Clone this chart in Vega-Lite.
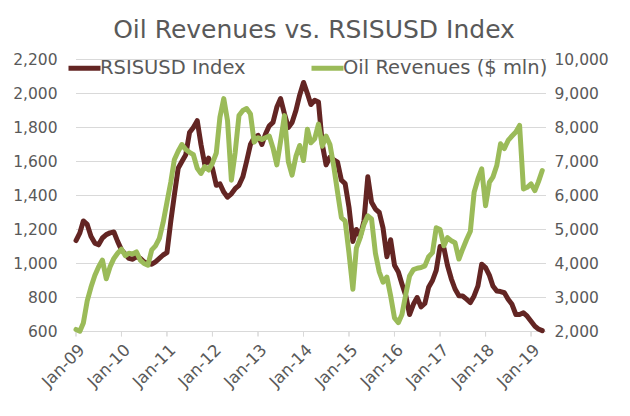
{
  "$schema": "https://vega.github.io/schema/vega-lite/v6.json",
  "width": 470,
  "height": 272,
  "autosize": {"type": "none"},
  "padding": {"left": 76, "top": 59.5, "right": 84, "bottom": 84.5},
  "background": "#ffffff",
  "title": {
    "text": "Oil Revenues vs. RSISUSD Index",
    "font": "DejaVu Sans",
    "fontSize": 25,
    "fontWeight": "normal",
    "color": "#595959",
    "anchor": "middle",
    "dx": 3,
    "dy": -3
  },
  "config": {
    "view": {"stroke": null},
    "axis": {
      "labelFont": "DejaVu Sans",
      "labelFontSize": 15.5,
      "labelColor": "#595959",
      "title": null
    },
    "legend": {
      "orient": "none",
      "legendX": -10,
      "legendY": -10,
      "direction": "horizontal",
      "symbolType": "stroke",
      "symbolSize": 1024,
      "symbolStrokeWidth": 5,
      "labelFont": "DejaVu Sans",
      "labelFontSize": 19.5,
      "labelColor": "#595959",
      "labelOffset": -3,
      "labelLimit": 400,
      "columnPadding": 55,
      "padding": 0,
      "title": null
    }
  },
  "datasets": {
    "grid": [
      {"d": "2009-01-01", "g": 600}, {"d": "2019-05-01", "g": 600},
      {"d": "2009-01-01", "g": 800}, {"d": "2019-05-01", "g": 800},
      {"d": "2009-01-01", "g": 1000}, {"d": "2019-05-01", "g": 1000},
      {"d": "2009-01-01", "g": 1200}, {"d": "2019-05-01", "g": 1200},
      {"d": "2009-01-01", "g": 1400}, {"d": "2019-05-01", "g": 1400},
      {"d": "2009-01-01", "g": 1600}, {"d": "2019-05-01", "g": 1600},
      {"d": "2009-01-01", "g": 1800}, {"d": "2019-05-01", "g": 1800},
      {"d": "2009-01-01", "g": 2000}, {"d": "2019-05-01", "g": 2000},
      {"d": "2009-01-01", "g": 2200}, {"d": "2019-05-01", "g": 2200}
    ],
    "ticks": [
      {"d": "2009-01-01"}, {"d": "2010-01-01"}, {"d": "2011-01-01"}, {"d": "2012-01-01"},
      {"d": "2013-01-01"}, {"d": "2014-01-01"}, {"d": "2015-01-01"}, {"d": "2016-01-01"},
      {"d": "2017-01-01"}, {"d": "2018-01-01"}, {"d": "2019-01-01"}
    ],
    "series": [
      {"date": "2009-01-01", "rsis": 1135, "oil": 2060},
      {"date": "2009-02-01", "rsis": 1180, "oil": 2010},
      {"date": "2009-03-01", "rsis": 1250, "oil": 2250},
      {"date": "2009-04-01", "rsis": 1230, "oil": 2900},
      {"date": "2009-05-01", "rsis": 1160, "oil": 3300},
      {"date": "2009-06-01", "rsis": 1120, "oil": 3650},
      {"date": "2009-07-01", "rsis": 1110, "oil": 3900},
      {"date": "2009-08-01", "rsis": 1150, "oil": 4100},
      {"date": "2009-09-01", "rsis": 1170, "oil": 3550},
      {"date": "2009-10-01", "rsis": 1180, "oil": 3900},
      {"date": "2009-11-01", "rsis": 1185, "oil": 4150},
      {"date": "2009-12-01", "rsis": 1130, "oil": 4300},
      {"date": "2010-01-01", "rsis": 1080, "oil": 4420},
      {"date": "2010-02-01", "rsis": 1055, "oil": 4230},
      {"date": "2010-03-01", "rsis": 1030, "oil": 4300},
      {"date": "2010-04-01", "rsis": 1025, "oil": 4280},
      {"date": "2010-05-01", "rsis": 1040, "oil": 4340},
      {"date": "2010-06-01", "rsis": 1030, "oil": 4100},
      {"date": "2010-07-01", "rsis": 1010, "oil": 4000},
      {"date": "2010-08-01", "rsis": 1000, "oil": 3950},
      {"date": "2010-09-01", "rsis": 996, "oil": 4400},
      {"date": "2010-10-01", "rsis": 1010, "oil": 4520},
      {"date": "2010-11-01", "rsis": 1030, "oil": 4740},
      {"date": "2010-12-01", "rsis": 1050, "oil": 5200},
      {"date": "2011-01-01", "rsis": 1064, "oil": 5800},
      {"date": "2011-02-01", "rsis": 1250, "oil": 6400},
      {"date": "2011-03-01", "rsis": 1400, "oil": 7050},
      {"date": "2011-04-01", "rsis": 1560, "oil": 7300},
      {"date": "2011-05-01", "rsis": 1600, "oil": 7500},
      {"date": "2011-06-01", "rsis": 1640, "oil": 7350},
      {"date": "2011-07-01", "rsis": 1770, "oil": 7270},
      {"date": "2011-08-01", "rsis": 1800, "oil": 7200},
      {"date": "2011-09-01", "rsis": 1840, "oil": 6800},
      {"date": "2011-10-01", "rsis": 1700, "oil": 6650},
      {"date": "2011-11-01", "rsis": 1580, "oil": 6850},
      {"date": "2011-12-01", "rsis": 1620, "oil": 6750},
      {"date": "2012-01-01", "rsis": 1560, "oil": 6950},
      {"date": "2012-02-01", "rsis": 1460, "oil": 7250},
      {"date": "2012-03-01", "rsis": 1468, "oil": 8300},
      {"date": "2012-04-01", "rsis": 1420, "oil": 8850},
      {"date": "2012-05-01", "rsis": 1390, "oil": 8200},
      {"date": "2012-06-01", "rsis": 1410, "oil": 6450},
      {"date": "2012-07-01", "rsis": 1440, "oil": 7250},
      {"date": "2012-08-01", "rsis": 1460, "oil": 8350},
      {"date": "2012-09-01", "rsis": 1510, "oil": 8500},
      {"date": "2012-10-01", "rsis": 1600, "oil": 8556},
      {"date": "2012-11-01", "rsis": 1700, "oil": 8400},
      {"date": "2012-12-01", "rsis": 1740, "oil": 7570},
      {"date": "2013-01-01", "rsis": 1754, "oil": 7700},
      {"date": "2013-02-01", "rsis": 1700, "oil": 7650},
      {"date": "2013-03-01", "rsis": 1760, "oil": 7700},
      {"date": "2013-04-01", "rsis": 1810, "oil": 7750},
      {"date": "2013-05-01", "rsis": 1830, "oil": 7400},
      {"date": "2013-06-01", "rsis": 1920, "oil": 6900},
      {"date": "2013-07-01", "rsis": 1970, "oil": 7600},
      {"date": "2013-08-01", "rsis": 1880, "oil": 8350},
      {"date": "2013-09-01", "rsis": 1800, "oil": 7000},
      {"date": "2013-10-01", "rsis": 1830, "oil": 6600},
      {"date": "2013-11-01", "rsis": 1900, "oil": 7150},
      {"date": "2013-12-01", "rsis": 1990, "oil": 7472},
      {"date": "2014-01-01", "rsis": 2065, "oil": 7029},
      {"date": "2014-02-01", "rsis": 2000, "oil": 7950},
      {"date": "2014-03-01", "rsis": 1935, "oil": 7550},
      {"date": "2014-04-01", "rsis": 1960, "oil": 7670},
      {"date": "2014-05-01", "rsis": 1950, "oil": 8100},
      {"date": "2014-06-01", "rsis": 1700, "oil": 7450},
      {"date": "2014-07-01", "rsis": 1580, "oil": 7750},
      {"date": "2014-08-01", "rsis": 1625, "oil": 7500},
      {"date": "2014-09-01", "rsis": 1610, "oil": 6850},
      {"date": "2014-10-01", "rsis": 1596, "oil": 6100},
      {"date": "2014-11-01", "rsis": 1490, "oil": 5350},
      {"date": "2014-12-01", "rsis": 1470, "oil": 5250},
      {"date": "2015-01-01", "rsis": 1330, "oil": 4300},
      {"date": "2015-02-01", "rsis": 1130, "oil": 3240},
      {"date": "2015-03-01", "rsis": 1200, "oil": 4450},
      {"date": "2015-04-01", "rsis": 1160, "oil": 4760},
      {"date": "2015-05-01", "rsis": 1250, "oil": 5150},
      {"date": "2015-06-01", "rsis": 1510, "oil": 5400},
      {"date": "2015-07-01", "rsis": 1360, "oil": 5310},
      {"date": "2015-08-01", "rsis": 1320, "oil": 4300},
      {"date": "2015-09-01", "rsis": 1300, "oil": 3750},
      {"date": "2015-10-01", "rsis": 1210, "oil": 3450},
      {"date": "2015-11-01", "rsis": 1040, "oil": 3600},
      {"date": "2015-12-01", "rsis": 1140, "oil": 3050},
      {"date": "2016-01-01", "rsis": 990, "oil": 2400},
      {"date": "2016-02-01", "rsis": 950, "oil": 2260},
      {"date": "2016-03-01", "rsis": 880, "oil": 2500},
      {"date": "2016-04-01", "rsis": 810, "oil": 3100},
      {"date": "2016-05-01", "rsis": 700, "oil": 3630},
      {"date": "2016-06-01", "rsis": 760, "oil": 3820},
      {"date": "2016-07-01", "rsis": 800, "oil": 3860},
      {"date": "2016-08-01", "rsis": 745, "oil": 3880},
      {"date": "2016-09-01", "rsis": 765, "oil": 3930},
      {"date": "2016-10-01", "rsis": 860, "oil": 4200},
      {"date": "2016-11-01", "rsis": 900, "oil": 4320},
      {"date": "2016-12-01", "rsis": 960, "oil": 5050},
      {"date": "2017-01-01", "rsis": 1100, "oil": 5000},
      {"date": "2017-02-01", "rsis": 1090, "oil": 4520},
      {"date": "2017-03-01", "rsis": 990, "oil": 4760},
      {"date": "2017-04-01", "rsis": 910, "oil": 4670},
      {"date": "2017-05-01", "rsis": 850, "oil": 4610},
      {"date": "2017-06-01", "rsis": 810, "oil": 4130},
      {"date": "2017-07-01", "rsis": 809, "oil": 4420},
      {"date": "2017-08-01", "rsis": 790, "oil": 4700},
      {"date": "2017-09-01", "rsis": 770, "oil": 4950},
      {"date": "2017-10-01", "rsis": 809, "oil": 6090},
      {"date": "2017-11-01", "rsis": 868, "oil": 6490},
      {"date": "2017-12-01", "rsis": 996, "oil": 6783},
      {"date": "2018-01-01", "rsis": 976, "oil": 5700},
      {"date": "2018-02-01", "rsis": 930, "oil": 6390},
      {"date": "2018-03-01", "rsis": 868, "oil": 6540},
      {"date": "2018-04-01", "rsis": 838, "oil": 6880},
      {"date": "2018-05-01", "rsis": 835, "oil": 7520},
      {"date": "2018-06-01", "rsis": 828, "oil": 7380},
      {"date": "2018-07-01", "rsis": 790, "oil": 7620},
      {"date": "2018-08-01", "rsis": 760, "oil": 7750},
      {"date": "2018-09-01", "rsis": 700, "oil": 7870},
      {"date": "2018-10-01", "rsis": 700, "oil": 8062},
      {"date": "2018-11-01", "rsis": 710, "oil": 6193},
      {"date": "2018-12-01", "rsis": 690, "oil": 6241},
      {"date": "2019-01-01", "rsis": 660, "oil": 6340},
      {"date": "2019-02-01", "rsis": 631, "oil": 6143},
      {"date": "2019-03-01", "rsis": 615, "oil": 6400},
      {"date": "2019-04-01", "rsis": 605, "oil": 6734}
    ]
  },
  "layer": [
    {
      "data": {"name": "grid"},
      "mark": {"type": "line", "color": "#D9D9D9", "strokeWidth": 1},
      "encoding": {
        "x": {"field": "d", "type": "temporal",
              "scale": {"type": "utc", "domain": ["2009-01-01", "2019-05-01"], "nice": false},
              "axis": {"format": "%b-%y", "tickCount": {"interval": "year", "step": 1}, "labelAngle": -45, "labelOverlap": false, "labelBound": false, "labelFlush": false, "labelFontSize": 16.5, "grid": false, "domain": false, "ticks": false, "labelPadding": 10}},
        "y": {"field": "g", "type": "quantitative", "axis": null,
              "scale": {"domain": [600, 2200], "nice": false, "zero": false}},
        "detail": {"field": "g", "type": "nominal"}
      }
    },
    {
      "data": {"name": "ticks"},
      "mark": {"type": "rect", "color": "#D9D9D9", "stroke": "#D9D9D9", "strokeWidth": 1},
      "encoding": {
        "x": {"field": "d", "type": "temporal",
              "scale": {"type": "utc", "domain": ["2009-01-01", "2019-05-01"], "nice": false},
              "axis": {"format": "%b-%y", "tickCount": {"interval": "year", "step": 1}, "labelAngle": -45, "labelOverlap": false, "labelBound": false, "labelFlush": false, "labelFontSize": 16.5, "grid": false, "domain": false, "ticks": false, "labelPadding": 10}},
        "x2": {"field": "d"},
        "y": {"datum": 600, "type": "quantitative", "axis": null,
              "scale": {"domain": [600, 2200], "nice": false, "zero": false}},
        "y2": {"datum": 571}
      }
    },
    {
      "data": {"name": "series"},
      "mark": {"type": "line", "strokeWidth": 5, "strokeJoin": "round", "strokeCap": "round"},
      "encoding": {
        "x": {"field": "date", "type": "temporal",
              "scale": {"type": "utc", "domain": ["2009-01-01", "2019-05-01"], "nice": false},
              "axis": {"format": "%b-%y", "tickCount": {"interval": "year", "step": 1}, "labelAngle": -45, "labelOverlap": false, "labelBound": false, "labelFlush": false, "labelFontSize": 16.5, "grid": false, "domain": false, "ticks": false, "labelPadding": 10}},
        "y": {"field": "rsis", "type": "quantitative",
              "scale": {"domain": [600, 2200], "nice": false, "zero": false},
              "axis": {"orient": "left", "values": [600, 800, 1000, 1200, 1400, 1600, 1800, 2000, 2200], "format": ",.0f", "grid": false, "labelOverlap": false, "domain": false, "ticks": false, "labelPadding": 19}},
        "color": {
          "datum": "RSISUSD Index",
          "type": "nominal",
          "scale": {"domain": ["RSISUSD Index", "Oil Revenues ($ mln)"], "range": ["#632523", "#9BBB59"]}
        }
      }
    },
    {
      "data": {"name": "series"},
      "mark": {"type": "line", "strokeWidth": 5, "strokeJoin": "round", "strokeCap": "round"},
      "encoding": {
        "x": {"field": "date", "type": "temporal",
              "scale": {"type": "utc", "domain": ["2009-01-01", "2019-05-01"], "nice": false},
              "axis": {"format": "%b-%y", "tickCount": {"interval": "year", "step": 1}, "labelAngle": -45, "labelOverlap": false, "labelBound": false, "labelFlush": false, "labelFontSize": 16.5, "grid": false, "domain": false, "ticks": false, "labelPadding": 10}},
        "y": {
          "field": "oil",
          "type": "quantitative",
          "scale": {"domain": [2000, 10000], "nice": false, "zero": false},
          "axis": {
            "orient": "right",
            "values": [2000, 3000, 4000, 5000, 6000, 7000, 8000, 9000, 10000],
            "format": ",.0f",
            "grid": false,
            "labelOverlap": false,
            "domain": false,
            "ticks": false,
            "labelPadding": 8
          }
        },
        "color": {"datum": "Oil Revenues ($ mln)", "type": "nominal"}
      }
    }
  ],
  "resolve": {"scale": {"y": "independent"}}
}
